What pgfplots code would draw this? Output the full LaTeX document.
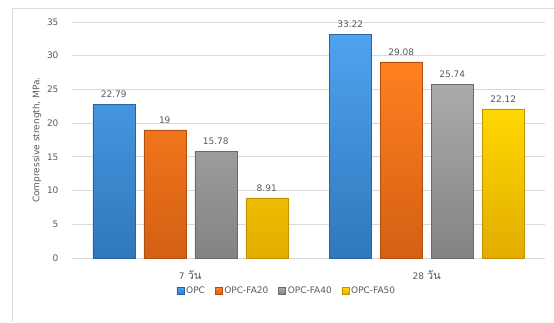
\documentclass[border=0pt]{standalone}
\usepackage{pgfplots}
\pgfplotsset{compat=1.18}
\usepackage{fontspec}
\setmainfont{DejaVu Sans}
\newfontfamily\thaifont[Script=Thai, Scale=1.25]{Loma}

\definecolor{txt}{HTML}{595959}
\definecolor{gridc}{HTML}{D9D9D9}
\definecolor{frame}{HTML}{D9D9D9}
\definecolor{blueT}{HTML}{4FA3EE}
\definecolor{blueB}{HTML}{3077BC}
\definecolor{blueD}{HTML}{2A64A0}
\definecolor{oranT}{HTML}{FF8020}
\definecolor{oranB}{HTML}{D46014}
\definecolor{oranD}{HTML}{B04E0E}
\definecolor{grayT}{HTML}{ABABAB}
\definecolor{grayB}{HTML}{838383}
\definecolor{grayD}{HTML}{6A6A6A}
\definecolor{yelT}{HTML}{FFD800}
\definecolor{yelB}{HTML}{E2AC00}
\definecolor{yelD}{HTML}{C09200}

\begin{document}
\begin{tikzpicture}[x=1pt,y=1pt]
\useasboundingbox (0,0) rectangle (554,322);
% chart frame
\draw[frame, line width=0.8pt] (12,0) -- (12,314) -- (560,314);
\begin{axis}[
  at={(72pt,64pt)}, anchor=south west,
  scale only axis, width=473pt, height=236pt,
  ymin=0, ymax=35, ytick={0,5,...,35},
  xmin=-0.5, xmax=1.5, xtick={0,1},
  xticklabels={7 {\thaifont วัน}, 28 {\thaifont วัน}},
  ybar=9pt, bar width=42pt,
  ymajorgrids, grid style={gridc, line width=0.8pt},
  axis line style={draw=none},
  major tick length=0pt, tick style={draw=none},
  /pgf/number format/assume math mode=true,
  tick label style={font=\fontsize{9}{11}\selectfont, text=txt},
  yticklabel style={xshift=-10pt},
  xticklabel style={yshift=-9pt},
  ylabel={Compressive strength, MPa.},
  ylabel style={at={(axis description cs:-0.074,0.5)}, anchor=center,
    font=\fontsize{9}{11}\selectfont, text=txt},
  nodes near coords, point meta=explicit symbolic,
  every node near coord/.append style={font=\fontsize{9}{11}\selectfont,
    text=txt, yshift=3pt},
  legend columns=4,
  legend style={draw=none, fill=none, at={(axis description cs:0.4545,-0.14)},
    anchor=center, font=\fontsize{9}{11}\selectfont, text=txt,
    /tikz/every even column/.append style={column sep=8pt}},
  legend image code/.code={\path[#1] (0pt,-3.5pt) rectangle (7pt,3.5pt);},
]
\addplot[top color=blueT, bottom color=blueB, draw=blueD, line width=0.4pt]
  coordinates {(0,22.79) [22.79] (1,33.22) [33.22]};
\addplot[top color=oranT, bottom color=oranB, draw=oranD, line width=0.4pt]
  coordinates {(0,19) [19] (1,29.08) [29.08]};
\addplot[top color=grayT, bottom color=grayB, draw=grayD, line width=0.4pt]
  coordinates {(0,15.78) [15.78] (1,25.74) [25.74]};
\addplot[top color=yelT, bottom color=yelB, draw=yelD, line width=0.4pt]
  coordinates {(0,8.91) [8.91] (1,22.12) [22.12]};
\legend{OPC, OPC-FA20, OPC-FA40, OPC-FA50}
\end{axis}
\end{tikzpicture}
\end{document}
